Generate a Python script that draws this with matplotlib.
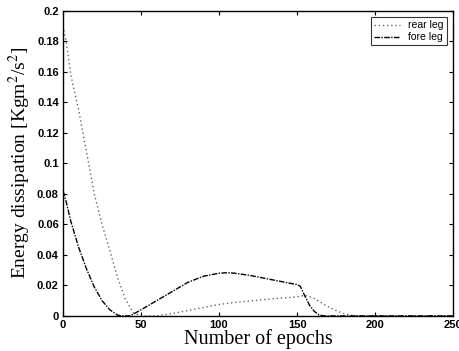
import matplotlib
matplotlib.use("Agg")
import matplotlib.pyplot as plt

# --------------------------------------------------
# Data
# --------------------------------------------------

rear_epochs = [0, 2, 5, 10, 15, 20, 25, 30, 35, 40, 45, 50, 60, 70, 80, 90,
               100, 110, 120, 130, 140, 150, 155, 160, 165, 170, 175, 180,
               185, 190, 250]
rear_energy = [0.19, 0.18, 0.158, 0.135, 0.108, 0.08, 0.06, 0.043, 0.025,
               0.011, 0.002, 0.0, 0.0, 0.0015, 0.0035, 0.0055, 0.0075,
               0.0088, 0.0098, 0.0108, 0.0117, 0.0125, 0.0135, 0.012, 0.009,
               0.006, 0.0035, 0.0015, 0.0004, 0.0, 0.0]

fore_epochs = [0, 2, 5, 10, 15, 20, 25, 30, 35, 38, 43, 50, 60, 70, 80, 90,
               100, 105, 110, 120, 130, 140, 150, 152, 155, 158, 161, 164,
               167, 250]
fore_energy = [0.082, 0.075, 0.062, 0.045, 0.031, 0.019, 0.010, 0.004,
               0.0005, 0.0, 0.0, 0.004, 0.010, 0.016, 0.022, 0.026, 0.028,
               0.0283, 0.028, 0.0265, 0.0245, 0.0225, 0.0205, 0.0195, 0.013,
               0.007, 0.003, 0.0007, 0.0, 0.0]

x_ticks = [0, 50, 100, 150, 200, 250]
y_ticks = [0, 0.02, 0.04, 0.06, 0.08, 0.1, 0.12, 0.14, 0.16, 0.18, 0.2]
y_tick_labels = ["0", "0.02", "0.04", "0.06", "0.08", "0.1", "0.12",
                 "0.14", "0.16", "0.18", "0.2"]

# --------------------------------------------------
# Plot
# --------------------------------------------------

plt.rcParams["mathtext.fontset"] = "stix"

fig = plt.figure(figsize=(4.6, 3.51), dpi=100)
ax = fig.add_axes([0.137, 0.10, 0.848, 0.869])

ax.plot(rear_epochs, rear_energy, color="#666666", linestyle=(0, (1, 2)),
        linewidth=1.0, label="rear leg")
ax.plot(fore_epochs, fore_energy, color="black", linestyle=(0, (4, 1, 1, 1)),
        linewidth=1.0, label="fore leg")

ax.set_xlim(0, 250)
ax.set_ylim(0, 0.2)
ax.set_xticks(x_ticks)
ax.set_yticks(y_ticks)
ax.set_yticklabels(y_tick_labels)

ax.tick_params(direction="in", top=True, right=True, length=3,
               labelsize=8, pad=3)
for lab in ax.get_xticklabels() + ax.get_yticklabels():
    lab.set_fontweight("bold")
    lab.set_family("Liberation Sans")

ax.set_xlabel("Number of epochs", family="Liberation Serif", fontsize=14.5,
              labelpad=-1)
ax.set_ylabel(r"Energy dissipation [Kgm$^2$/s$^2$]", family="Liberation Serif",
              fontsize=14, labelpad=3)

leg = ax.legend(loc="upper right", frameon=True, fancybox=False,
                edgecolor="black", borderpad=0.3, handlelength=2.5,
                labelspacing=0.2, borderaxespad=0.6,
                prop={"family": "Liberation Sans", "size": 7.5})
leg.get_frame().set_linewidth(0.8)

for spine in ax.spines.values():
    spine.set_linewidth(1.0)

plt.savefig("out.png", dpi=100)
plt.close()
